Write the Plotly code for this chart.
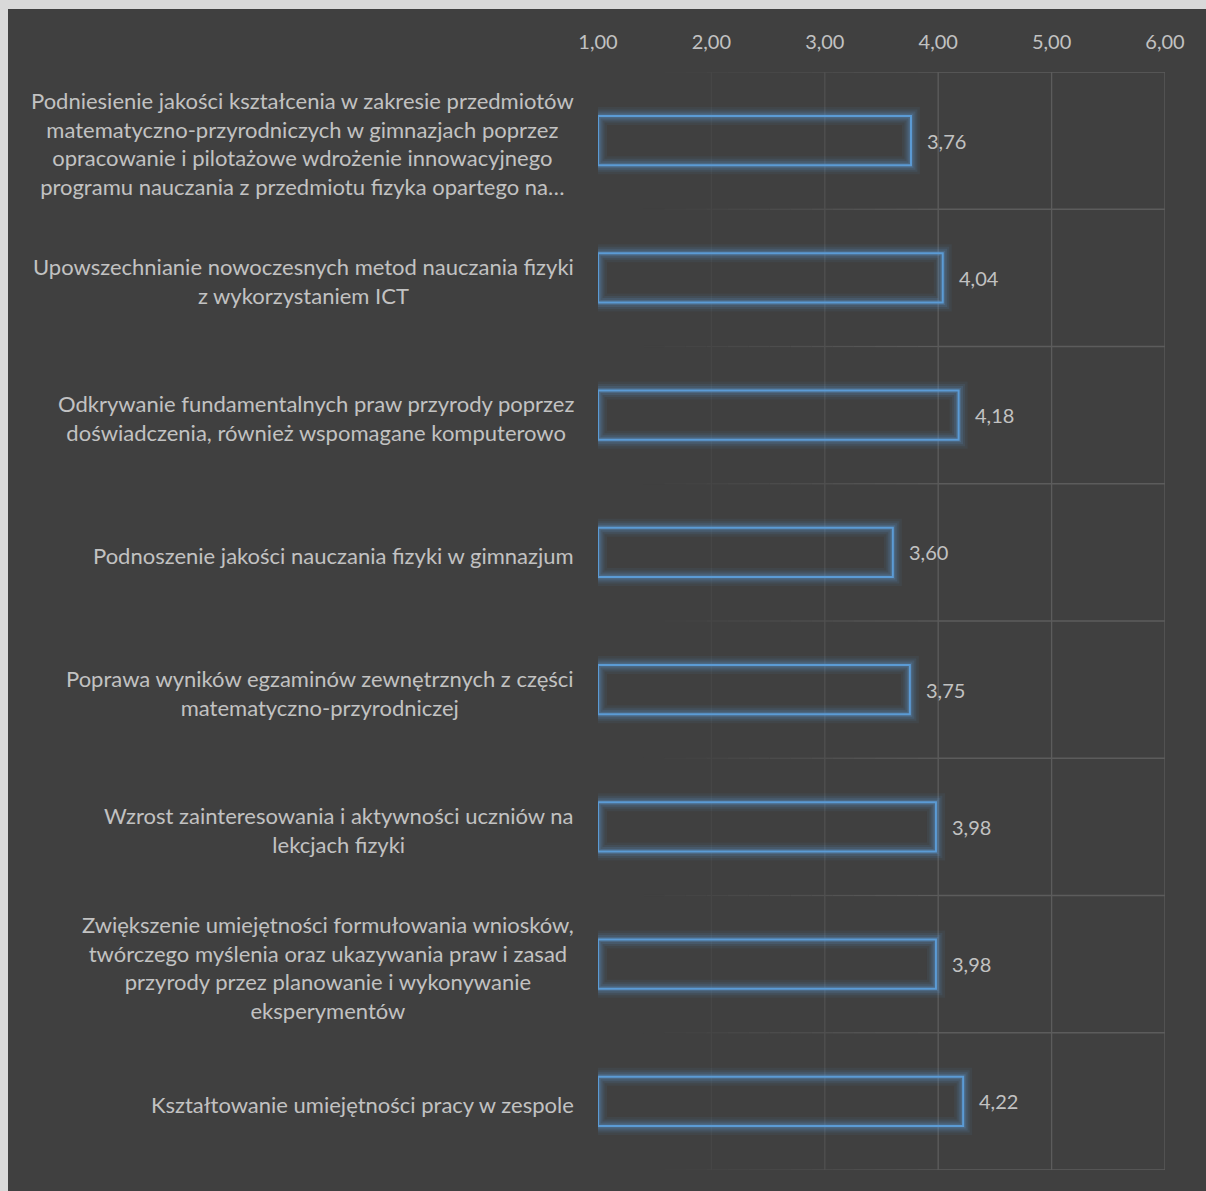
import plotly.graph_objects as go

# Survey results: mean rating of each project goal (scale 1-6)
categories = [
    ["Podniesienie jakości kształcenia w zakresie przedmiotów",
     "matematyczno-przyrodniczych w gimnazjach poprzez",
     "opracowanie i pilotażowe wdrożenie innowacyjnego",
     "programu nauczania z przedmiotu fizyka opartego na…"],
    ["Upowszechnianie nowoczesnych metod nauczania fizyki",
     "z wykorzystaniem ICT"],
    ["Odkrywanie fundamentalnych praw przyrody poprzez",
     "doświadczenia, również wspomagane komputerowo"],
    ["Podnoszenie jakości nauczania fizyki w gimnazjum"],
    ["Poprawa wyników egzaminów zewnętrznych z części",
     "matematyczno-przyrodniczej"],
    ["Wzrost zainteresowania i aktywności uczniów na",
     "lekcjach fizyki"],
    ["Zwiększenie umiejętności formułowania wniosków,",
     "twórczego myślenia oraz ukazywania praw i zasad",
     "przyrody przez planowanie i wykonywanie",
     "eksperymentów"],
    ["Kształtowanie umiejętności pracy w zespole"],
]
values = [3.76, 4.04, 4.18, 3.60, 3.75, 3.98, 3.98, 4.22]
tick_values = [1, 2, 3, 4, 5, 6]

AXIS_MIN, AXIS_MAX = 1, 6
W, H = 1206, 1191
M_L, M_R, M_T, M_B = 598, 41, 72, 21

BG = (64, 64, 64)
GRID = (92, 92, 92)
TEXT = "#c2c2c2"
BLUE = "#5b9bd5"
FONT = "Lato"
FS_LABEL = 22
FS_NUM = 20

# gridlines fade in from the left: hidden before FADE_START, full strength after FADE_END
FADE_START, FADE_END = 1.4, 4.0
FADE_STEPS = 14


def fmt(v):
    return f"{v:.2f}".replace(".", ",")


def grid_color(x):
    t = min(max((x - FADE_START) / (FADE_END - FADE_START), 0.0), 1.0)
    c = [round(b + (g - b) * t) for b, g in zip(BG, GRID)]
    return f"rgb({c[0]},{c[1]},{c[2]})"


n = len(categories)
ypos = list(range(n))
lengths = [v - AXIS_MIN for v in values]
y_range = [n - 0.5, -0.5]
separators = [i - 0.5 for i in range(n + 1)]

fig = go.Figure()

# horizontal separators between categories, drawn in short pieces so they fade out on the left
step = (FADE_END - FADE_START) / FADE_STEPS
pieces = [(FADE_START + k * step, FADE_START + (k + 1) * step) for k in range(FADE_STEPS)]
pieces.append((FADE_END, AXIS_MAX))
for x0, x1 in pieces:
    xs, ys = [], []
    for s in separators:
        xs += [x0, x1, None]
        ys += [s, s, None]
    fig.add_trace(go.Scatter(
        x=xs, y=ys, mode="lines", cliponaxis=False,
        line=dict(color=grid_color((x0 + x1) / 2), width=1.3),
        hoverinfo="skip", showlegend=False,
    ))

# vertical value gridlines
for tv in tick_values[1:]:
    fig.add_trace(go.Scatter(
        x=[tv, tv], y=[-0.5, n - 0.5], mode="lines", cliponaxis=False,
        line=dict(color=grid_color(tv), width=1.3),
        hoverinfo="skip", showlegend=False,
    ))

# soft glow around the bar outlines (overlay axes, so bars sit above the grid)
for lw, alpha in [(18, 0.07), (13, 0.1), (9, 0.15), (5, 0.24)]:
    fig.add_trace(go.Bar(
        y=ypos, x=lengths, base=AXIS_MIN, orientation="h", width=0.36,
        xaxis="x2", yaxis="y2",
        marker=dict(color="rgba(0,0,0,0)",
                    line=dict(color=f"rgba(91,155,213,{alpha})", width=lw)),
        hoverinfo="skip", showlegend=False,
    ))

# outlined bars
fig.add_trace(go.Bar(
    y=ypos, x=lengths, base=AXIS_MIN, orientation="h", width=0.36,
    xaxis="x2", yaxis="y2",
    marker=dict(color="rgba(0,0,0,0)", line=dict(color=BLUE, width=2)),
    customdata=values, hovertemplate="%{customdata}<extra></extra>",
    showlegend=False,
))

annotations = []
# value labels next to the bars
for i, v in enumerate(values):
    annotations.append(dict(
        x=v, y=i, xref="x", yref="y", text=fmt(v), showarrow=False,
        xanchor="left", yanchor="middle", xshift=14,
        font=dict(family=FONT, size=FS_NUM, color=TEXT),
    ))
# category labels, centred lines, right-aligned block
for i, lines in enumerate(categories):
    annotations.append(dict(
        x=0, y=i, xref="paper", yref="y", text="<br>".join(lines), showarrow=False,
        xanchor="right", yanchor="middle", xshift=-22, yshift=-3, align="center",
        font=dict(family=FONT, size=FS_LABEL, color=TEXT),
    ))

pw = W - M_L - M_R
ph = H - M_T - M_B
shapes = [
    # light frame on the left and top edges
    dict(type="rect", xref="paper", yref="paper",
         x0=-M_L / pw, x1=(8 - M_L) / pw, y0=-M_B / ph - 0.05, y1=1 + M_T / ph + 0.05,
         fillcolor="#d9d9d9", line=dict(width=0), layer="above"),
    dict(type="rect", xref="paper", yref="paper",
         x0=-M_L / pw, x1=1 + M_R / pw + 0.05, y0=1 + (M_T - 9) / ph, y1=1 + M_T / ph + 0.05,
         fillcolor="#d9d9d9", line=dict(width=0), layer="above"),
]

fig.update_layout(
    width=W, height=H,
    margin=dict(l=M_L, r=M_R, t=M_T, b=M_B, pad=0),
    paper_bgcolor="#404040", plot_bgcolor="#404040",
    barmode="overlay",
    separators=",.",
    annotations=annotations,
    shapes=shapes,
    font=dict(family=FONT, size=FS_NUM, color=TEXT),
    xaxis=dict(
        side="top", range=[AXIS_MIN, AXIS_MAX], tickvals=tick_values,
        tickformat=".2f", showgrid=False, zeroline=False, showline=False,
        ticks="", ticklabelstandoff=18,
        tickfont=dict(family=FONT, size=FS_NUM, color=TEXT),
    ),
    yaxis=dict(
        range=y_range, showticklabels=False, showgrid=False,
        zeroline=False, showline=False, ticks="",
    ),
    xaxis2=dict(overlaying="x", range=[AXIS_MIN, AXIS_MAX], visible=False),
    yaxis2=dict(overlaying="y", range=y_range, visible=False),
)

fig.write_html("out.html")
